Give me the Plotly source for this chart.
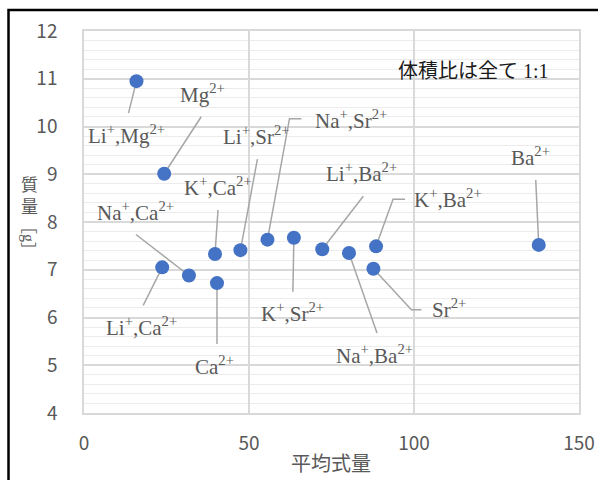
import plotly.graph_objects as go

# Mixed-ion samples: average formula weight vs. mass
labels = ["Li<sup>+</sup>,Mg<sup>2+</sup>", "Mg<sup>2+</sup>", "Li<sup>+</sup>,Ca<sup>2+</sup>",
          "Na<sup>+</sup>,Ca<sup>2+</sup>", "K<sup>+</sup>,Ca<sup>2+</sup>", "Ca<sup>2+</sup>",
          "Li<sup>+</sup>,Sr<sup>2+</sup>", "Na<sup>+</sup>,Sr<sup>2+</sup>", "K<sup>+</sup>,Sr<sup>2+</sup>",
          "Li<sup>+</sup>,Ba<sup>2+</sup>", "Na<sup>+</sup>,Ba<sup>2+</sup>", "K<sup>+</sup>,Ba<sup>2+</sup>",
          "Sr<sup>2+</sup>", "Ba<sup>2+</sup>"]
avg_weight = [15.9, 24.3, 23.7, 31.8, 39.7, 40.3, 47.4, 55.6, 63.6, 72.2, 80.3, 88.5, 87.7, 137.8]
mass_g = [10.95, 9.01, 7.05, 6.88, 7.33, 6.72, 7.41, 7.63, 7.67, 7.43, 7.35, 7.49, 7.02, 7.52]

x_ticks = [0, 50, 100, 150]
y_ticks = [4, 5, 6, 7, 8, 9, 10, 11, 12]

# label placement: text offset and leader-line path, in screen pixels (right, down) from each point
label_offsets = [(-10, 53), (38, -80), (-21, 59), (-53, -64), (3, -67), (-2, 82), (16, -115),
                 (84, -120), (-1, 75), (39, -77), (26, 101), (72, -48), (76, 40), (-8, -88)]
leader_paths = [
    [(-8, 32)],
    [(37, -57)],
    [(-19, 38)],
    [(-53, -41)],
    [(3, -44)],
    [(0, 61)],
    [(17, -91)],
    [(22, -121), (34, -121)],
    [(-1, 54)],
    [(41, -53)],
    [(28, 80)],
    [(17, -47), (29, -47)],
    [(38, 41), (48, 41)],
    [(-3, -65)],
]

SERIF = "Liberation Serif, Noto Sans CJK JP, serif"
SANS = "Noto Sans CJK JP, Noto Sans, sans-serif"
GREY_TXT = "#595959"

W, H = 598, 480
ML, MR, MT, MB = 84, 19, 31, 67
PW, PH = W - ML - MR, H - MT - MB


def paper(px, py):
    return (px - ML) / PW, (H - MB - py) / PH


fig = go.Figure()
fig.add_trace(go.Scatter(
    x=avg_weight, y=mass_g, mode="markers",
    marker=dict(size=14, color="#4472c4", line=dict(width=0)),
    hoverinfo="skip", showlegend=False,
))

shapes = []
for xv, yv, pts in zip(avg_weight, mass_g, leader_paths):
    path = "M0,0" + "".join(f" L{dx},{-dy}" for dx, dy in pts)
    shapes.append(dict(type="path", path=path, xref="x", yref="y",
                       xsizemode="pixel", ysizemode="pixel", xanchor=xv, yanchor=yv,
                       line=dict(color="#a6a6a6", width=1.5), layer="between"))

# outer chart frame
x0, y0 = paper(8.5, 10)
x1, y1 = paper(650, 530)
shapes.append(dict(type="rect", xref="paper", yref="paper", x0=x0, y0=y0, x1=x1, y1=y1,
                   line=dict(color="black", width=2.5), layer="above"))

annotations = []
for txt, xv, yv, (dx, dy) in zip(labels, avg_weight, mass_g, label_offsets):
    annotations.append(dict(text=txt, x=xv, y=yv, xref="x", yref="y", showarrow=False,
                            xshift=dx, yshift=-dy, xanchor="center", yanchor="middle",
                            font=dict(family=SERIF, size=21, color=GREY_TXT)))

nx, ny = paper(473, 71)
annotations.append(dict(text="体積比は全て 1:1", x=nx, y=ny, xref="paper", yref="paper",
                        showarrow=False, xanchor="center", yanchor="middle",
                        font=dict(family=SERIF, size=20, color="#1a1a1a")))

tx, ty = paper(331, 462)
annotations.append(dict(text="平均式量", x=tx, y=ty, xref="paper", yref="paper",
                        showarrow=False, xanchor="center", yanchor="middle",
                        font=dict(family=SANS, size=20, color=GREY_TXT)))

# vertical axis title: stacked kanji, unit in sideways brackets
qx, qy = paper(29, 196)
annotations.append(dict(text="質<br>量", x=qx, y=qy, xref="paper", yref="paper",
                        showarrow=False, xanchor="center", yanchor="middle",
                        font=dict(family=SERIF, size=17, color=GREY_TXT)))
gx, gy = paper(28, 238)
annotations.append(dict(text="［g］", x=gx, y=gy, xref="paper", yref="paper", textangle=90,
                        showarrow=False, xanchor="center", yanchor="middle",
                        font=dict(family=SERIF, size=16, color=GREY_TXT)))

fig.update_layout(
    width=W, height=H,
    margin=dict(l=ML, r=MR, t=MT, b=MB, autoexpand=False),
    paper_bgcolor="white", plot_bgcolor="white",
    shapes=shapes, annotations=annotations,
    xaxis=dict(range=[0, 150], tickvals=x_ticks, ticktext=[str(v) for v in x_ticks],
               showgrid=True, gridcolor="#d9d9d9", gridwidth=1.5, zeroline=False,
               showline=True, mirror=True, linecolor="#d9d9d9", linewidth=1.5,
               ticks="outside", ticklen=12, tickcolor="rgba(0,0,0,0)",
               tickfont=dict(family=SANS, size=19, color=GREY_TXT)),
    yaxis=dict(range=[4, 12], tickvals=y_ticks, ticktext=[str(v) for v in y_ticks],
               showgrid=True, gridcolor="#d9d9d9", gridwidth=1.5, zeroline=False,
               showline=True, mirror=True, linecolor="#d9d9d9", linewidth=1.5,
               ticks="outside", ticklen=21, tickcolor="rgba(0,0,0,0)",
               minor=dict(dtick=0.2, showgrid=True, gridcolor="#ececec", gridwidth=1),
               tickfont=dict(family=SANS, size=19, color=GREY_TXT)),
)

fig.write_html("out.html")
